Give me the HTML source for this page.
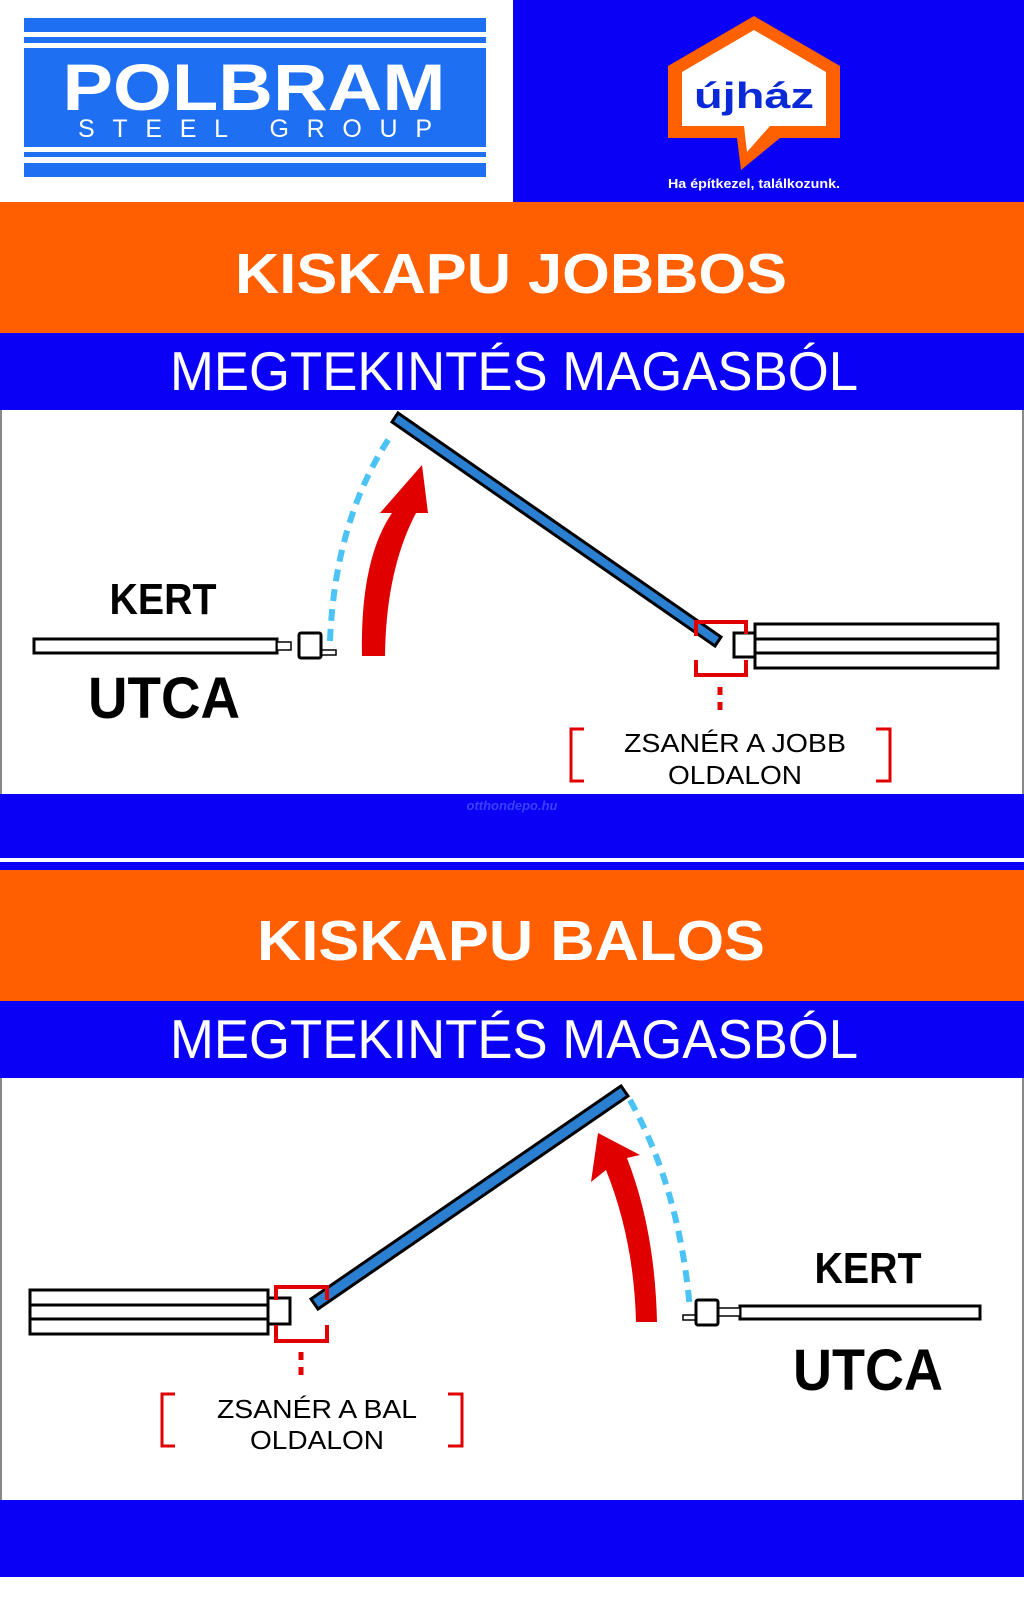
<!DOCTYPE html>
<html><head><meta charset="utf-8"><style>
html,body{margin:0;padding:0;background:#fff}
svg{display:block}
</style></head><body>
<svg width="1024" height="1613" viewBox="0 0 1024 1613" xmlns="http://www.w3.org/2000/svg" font-family="Liberation Sans, sans-serif">
<rect x="0" y="0" width="1024" height="1613" fill="#fff"/>
<!-- header -->
<rect x="513" y="0" width="511" height="202" fill="#0a00f5"/>
<g fill="#1f6ff2">
<rect x="24" y="18" width="462" height="14"/>
<rect x="24" y="37" width="462" height="6"/>
<rect x="24" y="48" width="462" height="99"/>
<rect x="24" y="152" width="462" height="5"/>
<rect x="24" y="163" width="462" height="14"/>
</g>
<text x="254" y="110" text-anchor="middle" fill="#fff" font-weight="bold" font-size="66" textLength="383" lengthAdjust="spacingAndGlyphs">POLBRAM</text>
<text x="255" y="137" text-anchor="middle" fill="#fff" font-size="25" textLength="354" lengthAdjust="spacing">STEEL GROUP</text>
<!-- ujhaz -->
<path d="M754 16 L840 66 L840 138 L780 138 L741 170 L737 138 L668 138 L668 66 Z" fill="#ff6000"/>
<path d="M754 30 L826 72 L826 126 L770 126 L747 152 L744 126 L682 126 L682 72 Z" fill="#fff"/>
<text x="754" y="108" text-anchor="middle" fill="#0a2ad8" font-weight="bold" font-size="36" textLength="120" lengthAdjust="spacingAndGlyphs">újház</text>
<text x="754" y="188" text-anchor="middle" fill="#fff" font-weight="bold" font-size="13" textLength="172" lengthAdjust="spacingAndGlyphs">Ha építkezel, találkozunk.</text>
<!-- section 1 -->
<rect x="0" y="202" width="1024" height="131" fill="#ff5f00"/>
<text x="511" y="293" text-anchor="middle" fill="#fff" font-weight="bold" font-size="57" textLength="552" lengthAdjust="spacingAndGlyphs">KISKAPU JOBBOS</text>
<rect x="0" y="333" width="1024" height="77" fill="#0a00f5"/>
<text x="514" y="390" text-anchor="middle" fill="#fff" font-size="55" textLength="688" lengthAdjust="spacingAndGlyphs">MEGTEKINTÉS MAGASBÓL</text>
<rect x="0" y="410" width="2" height="384" fill="#888"/>
<rect x="1022" y="410" width="2" height="384" fill="#888"/>
<rect x="0" y="794" width="1024" height="64" fill="#0a00f5"/>
<text x="512" y="810" text-anchor="middle" fill="#3a40ff" font-style="italic" font-weight="bold" font-size="13">otthondepo.hu</text>
<rect x="0" y="862" width="1024" height="8" fill="#0a00f5"/>
<!-- diagram 1 -->
<path d="M330 641 Q335 520 390 437" fill="none" stroke="#4cc3f5" stroke-width="6" stroke-dasharray="12 8"/>
<path d="M362 656 Q360 560 392 513 L380 513 L422 465 L428 513 L416 513 Q386 570 385 656 Z" fill="#e00000"/>
<polygon points="392,422 398,413 721,637 715,646" fill="#2a7fd0" stroke="#000" stroke-width="3"/>
<rect x="34" y="639" width="243" height="14" fill="#fff" stroke="#000" stroke-width="3"/>
<rect x="277" y="642" width="14" height="8" fill="#fff" stroke="#000" stroke-width="1.5"/>
<rect x="321" y="650" width="15" height="5" fill="#fff" stroke="#000" stroke-width="1.5"/>
<rect x="299" y="633" width="22" height="25" rx="2" fill="#fff" stroke="#000" stroke-width="3"/>
<text x="163" y="614" text-anchor="middle" font-weight="bold" font-size="44" textLength="107" lengthAdjust="spacingAndGlyphs">KERT</text>
<text x="164" y="718" text-anchor="middle" font-weight="bold" font-size="58" textLength="152" lengthAdjust="spacingAndGlyphs">UTCA</text>
<rect x="755" y="624" width="243" height="44" fill="#fff" stroke="#000" stroke-width="3"/>
<line x1="755" y1="639" x2="998" y2="639" stroke="#000" stroke-width="3"/>
<line x1="755" y1="653" x2="998" y2="653" stroke="#000" stroke-width="3"/>
<rect x="734" y="633" width="21" height="24" fill="#fff" stroke="#000" stroke-width="3"/>
<path d="M696 636 L696 622 L746 622 L746 634 M696 660 L696 675 L746 675 L746 660" fill="none" stroke="#e00000" stroke-width="4"/>
<line x1="720" y1="687" x2="720" y2="712" stroke="#e00000" stroke-width="5" stroke-dasharray="8 7"/>
<path d="M584 729 L571 729 L571 781 L584 781 M876 729 L890 729 L890 781 L876 781" fill="none" stroke="#e00000" stroke-width="3"/>
<text x="735" y="752" text-anchor="middle" font-size="26" textLength="222" lengthAdjust="spacingAndGlyphs">ZSANÉR A JOBB</text>
<text x="735" y="784" text-anchor="middle" font-size="26" textLength="134" lengthAdjust="spacingAndGlyphs">OLDALON</text>
<!-- section 2 -->
<rect x="0" y="870" width="1024" height="131" fill="#ff5f00"/>
<text x="511" y="960" text-anchor="middle" fill="#fff" font-weight="bold" font-size="57" textLength="508" lengthAdjust="spacingAndGlyphs">KISKAPU BALOS</text>
<rect x="0" y="1001" width="1024" height="77" fill="#0a00f5"/>
<text x="514" y="1058" text-anchor="middle" fill="#fff" font-size="55" textLength="688" lengthAdjust="spacingAndGlyphs">MEGTEKINTÉS MAGASBÓL</text>
<rect x="0" y="1078" width="2" height="422" fill="#888"/>
<rect x="1022" y="1078" width="2" height="422" fill="#888"/>
<rect x="0" y="1500" width="1024" height="77" fill="#0a00f5"/>
<!-- diagram 2 -->
<path d="M630 1100 Q680 1190 690 1310" fill="none" stroke="#4cc3f5" stroke-width="6" stroke-dasharray="12 8"/>
<path d="M657 1322 Q655 1230 627 1158 L640 1155 L598 1133 L591 1182 L606 1170 Q634 1240 636 1322 Z" fill="#e00000"/>
<polygon points="311,1299 621,1086 628,1096 318,1309" fill="#2a7fd0" stroke="#000" stroke-width="3"/>
<rect x="30" y="1290" width="238" height="44" fill="#fff" stroke="#000" stroke-width="3"/>
<line x1="30" y1="1305" x2="268" y2="1305" stroke="#000" stroke-width="3"/>
<line x1="30" y1="1319" x2="268" y2="1319" stroke="#000" stroke-width="3"/>
<rect x="268" y="1298" width="22" height="26" fill="#fff" stroke="#000" stroke-width="3"/>
<path d="M276 1300 L276 1287 L327 1287 L327 1300 M276 1325 L276 1341 L327 1341 L327 1325" fill="none" stroke="#e00000" stroke-width="4"/>
<line x1="301" y1="1352" x2="301" y2="1377" stroke="#e00000" stroke-width="5" stroke-dasharray="8 7"/>
<path d="M175 1394 L162 1394 L162 1446 L175 1446 M448 1394 L462 1394 L462 1446 L448 1446" fill="none" stroke="#e00000" stroke-width="3"/>
<text x="317" y="1418" text-anchor="middle" font-size="26" textLength="200" lengthAdjust="spacingAndGlyphs">ZSANÉR A BAL</text>
<text x="317" y="1449" text-anchor="middle" font-size="26" textLength="134" lengthAdjust="spacingAndGlyphs">OLDALON</text>
<rect x="740" y="1306" width="240" height="13" fill="#fff" stroke="#000" stroke-width="3"/>
<rect x="718" y="1308" width="22" height="8" fill="#fff" stroke="#000" stroke-width="1.5"/>
<rect x="683" y="1315" width="13" height="5" fill="#fff" stroke="#000" stroke-width="1.5"/>
<rect x="696" y="1300" width="22" height="25" rx="2" fill="#fff" stroke="#000" stroke-width="3"/>
<text x="868" y="1283" text-anchor="middle" font-weight="bold" font-size="44" textLength="107" lengthAdjust="spacingAndGlyphs">KERT</text>
<text x="868" y="1390" text-anchor="middle" font-weight="bold" font-size="58" textLength="150" lengthAdjust="spacingAndGlyphs">UTCA</text>
</svg>
</body></html>
